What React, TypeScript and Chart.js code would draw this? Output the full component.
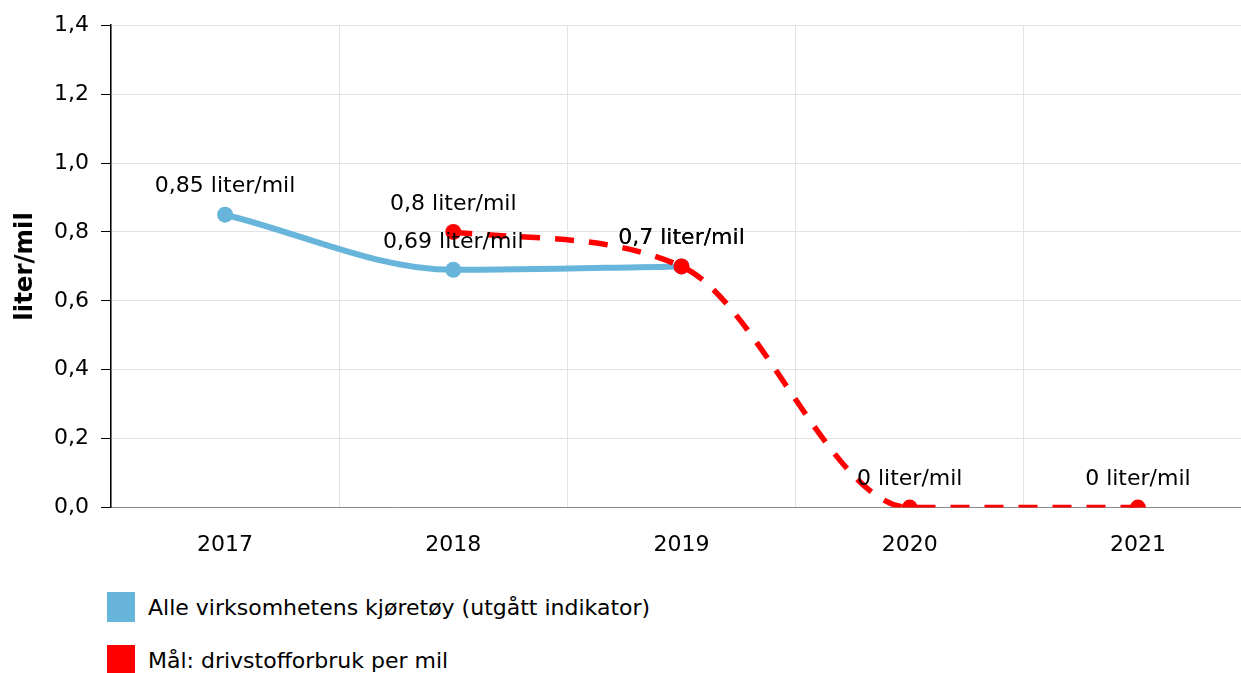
import React, { useEffect, useRef } from "react";
import { Chart, registerables } from "chart.js";

Chart.register(...registerables);

const categories = ["2017", "2018", "2019", "2020", "2021"];
const seriesNames = ["Alle virksomhetens kjøretøy (utgått indikator)", "Mål: drivstofforbruk per mil"];
const actualValues: (number | null)[] = [0.85, 0.69, 0.7, null, null];
const targetValues: (number | null)[] = [null, 0.8, 0.7, 0, 0];
const yTitle = "liter/mil";
const unit = "liter/mil";
const blue = "#68b5db";
const red = "#ff0000";
const FONT = "'DejaVu Sans', Verdana, sans-serif";
const FS = 22;

const fmt = (v: number) => String(v).replace(".", ",");

const labelPlugin = {
  id: "pointLabels",
  afterDatasetsDraw(chart: any) {
    const ctx = chart.ctx;
    ctx.save();
    ctx.font = `${FS}px ${FONT}`;
    ctx.fillStyle = "#000";
    ctx.textAlign = "center";
    ctx.textBaseline = "middle";
    chart.data.datasets.forEach((ds: any, di: number) => {
      const meta = chart.getDatasetMeta(di);
      meta.data.forEach((pt: any, i: number) => {
        const v = ds.data[i];
        if (v === null || v === undefined) return;
        ctx.fillText(`${fmt(v)} ${unit}`, pt.x, pt.y - 28);
      });
    });
    ctx.restore();
  },
};

export default function App() {
  const ref = useRef<HTMLCanvasElement>(null);
  useEffect(() => {
    const chart = new Chart(ref.current!, {
      type: "line",
      data: {
        labels: categories,
        datasets: [
          {
            label: seriesNames[0],
            data: actualValues,
            borderColor: blue,
            backgroundColor: blue,
            borderWidth: 6,
            pointRadius: 8,
            pointHoverRadius: 8,
            pointBorderWidth: 0,
            cubicInterpolationMode: "monotone",
            order: 2,
            spanGaps: false,
          },
          {
            label: seriesNames[1],
            data: targetValues,
            borderColor: red,
            backgroundColor: red,
            borderWidth: 5.5,
            borderDash: [19, 15],
            pointRadius: 8,
            pointHoverRadius: 8,
            pointBorderWidth: 0,
            cubicInterpolationMode: "monotone",
            order: 1,
          },
        ],
      },
      options: {
        responsive: false,
        animation: false,
        layout: { padding: { top: 25, right: 1, bottom: 6, left: 0 } },
        plugins: {
          legend: { display: false },
          tooltip: { enabled: false },
        },
        scales: {
          x: {
            offset: true,
            grid: { offset: true, color: "#e3e3e3", drawTicks: false },
            border: { color: "#8a8a8a", width: 1 },
            ticks: { color: "#000", font: { family: FONT, size: FS }, padding: 24 },
          },
          y: {
            min: 0,
            max: 1.4,
            afterFit: (s: any) => {
              s.width = 111;
            },
            ticks: {
              stepSize: 0.2,
              color: "#000",
              font: { family: FONT, size: FS },
              padding: 12,
              callback: (v: any) => Number(v).toFixed(1).replace(".", ","),
            },
            grid: { color: "#e3e3e3", tickColor: "#000", tickLength: 10 },
            border: { color: "#000", width: 1.5 },
            title: {
              display: true,
              text: yTitle,
              color: "#000",
              font: { family: FONT, size: 24.5, weight: "bold" },
              padding: { top: 11, bottom: 0 },
            },
          },
        },
      },
      plugins: [labelPlugin],
    } as any);
    return () => chart.destroy();
  }, []);

  const colors = [blue, red];
  const tops = [592, 645];
  return (
    <div
      style={{
        position: "fixed",
        left: 0,
        top: 0,
        width: 1241,
        height: 673,
        overflow: "hidden",
        background: "#fff",
      }}
    >
      <canvas ref={ref} width={1260} height={588} style={{ width: 1260, height: 588, display: "block" }} />
      {seriesNames.map((n, i) => (
        <div
          key={n}
          style={{
            position: "absolute",
            left: 107,
            top: tops[i],
            height: 30,
            display: "flex",
            alignItems: "center",
            fontFamily: FONT,
            fontSize: FS,
            color: "#000",
            whiteSpace: "nowrap",
          }}
        >
          <span style={{ display: "inline-block", width: 28, height: 30, background: colors[i], marginRight: 13 }} />
          <span>{n}</span>
        </div>
      ))}
    </div>
  );
}
